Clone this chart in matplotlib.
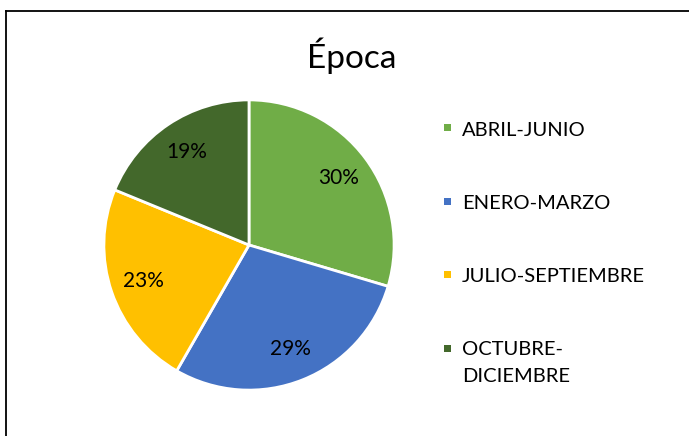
import matplotlib
matplotlib.use("Agg")
import matplotlib.pyplot as plt
from matplotlib.patches import Rectangle
from matplotlib.lines import Line2D

plt.rcParams['font.family'] = ['Lato', 'DejaVu Sans']

title = "Época"
categories = ["ABRIL-JUNIO", "ENERO-MARZO", "JULIO-SEPTIEMBRE", "OCTUBRE-\nDICIEMBRE"]
values = [29.6, 28.7, 22.9, 18.8]
colors = ["#70AD47", "#4472C4", "#FFC000", "#43682B"]

W, H = 689, 436
fig = plt.figure(figsize=(W / 100, H / 100), dpi=100)
fig.patch.set_facecolor("white")

# border (top and left visible)
fig.add_artist(Line2D([5.5 / W, 1.0], [1 - 11.5 / H, 1 - 11.5 / H], color="black", lw=1.3))
fig.add_artist(Line2D([5.5 / W, 5.5 / W], [0.0, 1 - 11.5 / H], color="black", lw=1.3))

cx, cy, r = 249, 245, 148
ax = fig.add_axes([(cx - r) / W, (H - cy - r) / H, 2 * r / W, 2 * r / H])
wedges, texts, autotexts = ax.pie(
    values, colors=colors, startangle=90, counterclock=False,
    autopct=lambda p: f"{p:.0f}%", pctdistance=0.77,
    wedgeprops=dict(edgecolor="white", linewidth=2),
    textprops=dict(fontsize=15, color="black"),
)
ax.set_xlim(-1.02, 1.02)
ax.set_ylim(-1.02, 1.02)
ax.set_aspect("equal")
ax.axis("off")

fig.text(352 / W, 1 - 56 / H, title, ha="center", va="center", fontsize=24)

# legend
ys = [128, 201, 274, 348]
for lab, col, y in zip(categories, colors, ys):
    fig.add_artist(Rectangle(((444) / W, 1 - (y + 3.5) / H), 7 / W, 7 / H,
                             facecolor=col, edgecolor="none", transform=fig.transFigure))
    if "\n" in lab:
        fig.text(462 / W, 1 - (y - 7) / H, lab, ha="left", va="top",
                 fontsize=14.5, linespacing=1.7)
    else:
        fig.text(462 / W, 1 - (y + 1) / H, lab, ha="left", va="center_baseline",
                 fontsize=14.5)

fig.savefig("out.png", dpi=100, facecolor="white")
